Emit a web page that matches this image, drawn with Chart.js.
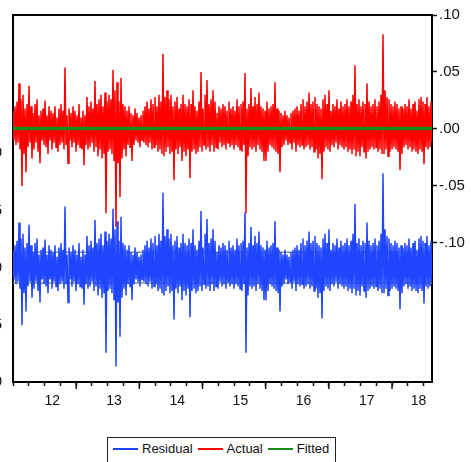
<!DOCTYPE html>
<html>
<head>
<meta charset="utf-8">
<script src="https://cdn.jsdelivr.net/npm/chart.js@4.4.0/dist/chart.umd.min.js"></script>
<style>
html, body { margin: 0; padding: 0; background: #fff; }
body { width: 471px; height: 462px; overflow: hidden; position: relative; font-family: "Liberation Sans", Arial, sans-serif; }
#wrap { position: absolute; left: -30px; top: 0; width: 501px; height: 420px; }
#legend { position: absolute; left: 107px; top: 437px; width: 229px; height: 34px; box-sizing: border-box;
  border: 1.5px solid #222; display: flex; align-items: flex-start; padding: 3px 0 0 5px; font-size: 13px; color: #111; }
.item { display: flex; align-items: center; margin-right: 5px; line-height: 16px; }
.swatch { width: 25px; height: 2px; margin-right: 4px; }
</style>
</head>
<body>
<div id="wrap"><canvas id="chart" width="501" height="420"></canvas></div>
<div id="legend">
  <div class="item"><span class="swatch" style="background:#1f45ff"></span>Residual</div>
  <div class="item"><span class="swatch" style="background:#ff0000"></span>Actual</div>
  <div class="item"><span class="swatch" style="background:#1a8a1a"></span>Fitted</div>
</div>
<script>
// 残差 / 实际值 / 拟合值 (daily returns, 2012 - mid 2018)
const X_START = 2012.0;
const X_END = 2018.633;

// actual values (right axis)
const actual = [
  0.016, -0.010, 0.020, -0.014, 0.024, -0.012, 0.040, -0.018, 0.026, -0.050,
  0.030, -0.022, 0.018, -0.038, 0.022, -0.016, 0.038, -0.012, 0.020, -0.026,
  0.014, -0.018, 0.022, -0.012, 0.026, -0.020, 0.012, -0.030, 0.016, -0.010,
  0.018, -0.014, 0.025, -0.016, 0.012, -0.022, 0.020, -0.010, 0.016, -0.018,
  0.014, -0.012, 0.020, -0.016, 0.010, -0.020, 0.018, -0.014, 0.022, -0.012,
  0.016, -0.018, 0.054, -0.014, 0.012, -0.030, 0.018, -0.010, 0.014, -0.016,
  0.020, -0.012, 0.016, -0.020, 0.012, -0.014, 0.022, -0.016, 0.010, -0.018,
  0.016, -0.032, 0.012, -0.014, 0.028, -0.018, 0.020, -0.016, 0.024, -0.012,
  0.018, -0.020, 0.042, -0.016, 0.022, -0.024, 0.026, -0.018, 0.030, -0.026,
  0.020, -0.022, 0.032, -0.074, 0.024, -0.020, 0.030, -0.018, 0.026, -0.022,
  0.052, -0.028, 0.034, -0.086, 0.041, -0.030, 0.024, -0.060, 0.045, -0.026,
  0.022, -0.018, 0.020, -0.024, 0.016, -0.014, 0.020, -0.016, 0.014, -0.028,
  0.012, -0.014, 0.018, -0.010, 0.014, -0.012, 0.010, -0.016, 0.012, -0.010,
  0.016, -0.012, 0.020, -0.014, 0.024, -0.016, 0.018, -0.012, 0.026, -0.018,
  0.022, -0.016, 0.028, -0.014, 0.020, -0.020, 0.030, -0.018, 0.024, -0.022,
  0.066, -0.024, 0.028, -0.020, 0.034, -0.016, 0.026, -0.022, 0.030, -0.020,
  0.020, -0.045, 0.024, -0.018, 0.028, -0.022, 0.018, -0.016, 0.022, -0.028,
  0.030, -0.020, 0.022, -0.024, 0.020, -0.018, 0.026, -0.043, 0.022, -0.020,
  0.034, -0.018, 0.020, -0.022, 0.016, -0.020, 0.024, -0.016, 0.050, -0.020,
  0.018, -0.014, 0.030, -0.018, 0.043, -0.016, 0.022, -0.020, 0.026, -0.014,
  0.034, -0.020, 0.024, -0.016, 0.014, -0.018, 0.020, -0.012, 0.018, -0.016,
  0.022, -0.014, 0.020, -0.018, 0.016, -0.012, 0.024, -0.016, 0.018, -0.014,
  0.020, -0.018, 0.016, -0.014, 0.026, -0.016, 0.020, -0.018, 0.022, -0.020,
  0.024, -0.014, 0.049, -0.074, 0.018, -0.024, 0.022, -0.016, 0.036, -0.018,
  0.020, -0.016, 0.028, -0.020, 0.022, -0.014, 0.032, -0.018, 0.020, -0.020,
  0.018, -0.028, 0.016, -0.028, 0.024, -0.020, 0.018, -0.014, 0.020, -0.016,
  0.022, -0.018, 0.041, -0.020, 0.018, -0.022, 0.016, -0.038, 0.014, -0.016,
  0.012, -0.014, 0.016, -0.010, 0.012, -0.014, 0.010, -0.012, 0.014, -0.018,
  0.016, -0.012, 0.018, -0.020, 0.020, -0.014, 0.016, -0.016, 0.022, -0.014,
  0.026, -0.018, 0.020, -0.016, 0.024, -0.014, 0.032, -0.018, 0.022, -0.016,
  0.024, -0.020, 0.028, -0.018, 0.022, -0.026, 0.020, -0.022, 0.018, -0.044,
  0.026, -0.020, 0.030, -0.016, 0.022, -0.018, 0.034, -0.020, 0.016, -0.014,
  0.022, -0.016, 0.020, -0.012, 0.026, -0.018, 0.018, -0.014, 0.024, -0.016,
  0.020, -0.018, 0.022, -0.016, 0.026, -0.020, 0.020, -0.018, 0.024, -0.022,
  0.030, -0.018, 0.056, -0.024, 0.022, -0.020, 0.026, -0.024, 0.020, -0.016,
  0.024, -0.020, 0.022, -0.026, 0.040, -0.020, 0.024, -0.018, 0.020, -0.016,
  0.022, -0.018, 0.026, -0.016, 0.020, -0.020, 0.024, -0.018, 0.030, -0.022,
  0.083, -0.022, 0.034, -0.018, 0.028, -0.024, 0.026, -0.020, 0.022, -0.018,
  0.020, -0.016, 0.024, -0.018, 0.022, -0.020, 0.018, -0.036, 0.020, -0.022,
  0.018, -0.016, 0.022, -0.014, 0.020, -0.018, 0.026, -0.016, 0.018, -0.020,
  0.022, -0.018, 0.024, -0.020, 0.016, -0.022, 0.026, -0.018, 0.028, -0.020,
  0.024, -0.031, 0.022, -0.016, 0.028, -0.018, 0.020, -0.016, 0.024, -0.012
];
// constant-mean model
const fittedLevel = 0.0004;
// +/- 1 S.E. band on the residual axis
const seBand = [0.0135, -0.0135];

const yTicks = [-0.10, -0.05, 0.00, 0.05, 0.10];
const xLabels = ['12', '13', '14', '15', '16', '17', '18'];
const xLabelPos = [2012.62, 2013.6, 2014.6, 2015.6, 2016.6, 2017.6, 2018.42];
const yearTicks = [2013, 2014, 2015, 2016, 2017, 2018];

const FONT = '"Liberation Sans", Arial, sans-serif';

const n = actual.length;
const dates = actual.map((_, i) => X_START + i * (X_END - X_START) / (n - 1));
const fitted = actual.map(() => fittedLevel);
const residual = actual.map((v, i) => v - fitted[i]);

const quarterTicks = [];
for (let q = X_START; q <= X_END + 1e-9; q += 0.25) quarterTicks.push(+q.toFixed(2));
const xTickValues = quarterTicks.concat(xLabelPos).sort((a, b) => a - b);

function fmt(v) {
    if (Math.abs(v) < 1e-9) return '.00';
    return (v < 0 ? '-' : '') + Math.abs(v).toFixed(2).replace(/^0/, '');
}

const longTicks = {
    id: 'longTicks',
    afterDraw(chart) {
        const s = chart.scales.x;
        const ctx = chart.ctx;
        ctx.save();
        ctx.strokeStyle = '#111';
        ctx.lineWidth = 1.5;
        yearTicks.forEach(v => {
            const px = s.getPixelForValue(v);
            ctx.beginPath();
            ctx.moveTo(px, s.top);
            ctx.lineTo(px, s.top + 7);
            ctx.stroke();
        });
        ctx.restore();
    }
};

const pts = arr => arr.map((v, i) => ({ x: dates[i], y: v }));

new Chart(document.getElementById('chart'), {
    type: 'line',
    data: {
        datasets: [
            {
                label: 'Fitted', data: pts(fitted), yAxisID: 'yAct', xAxisID: 'x',
                borderColor: '#1a8a1a', borderWidth: 3.5, pointRadius: 0, order: 1
            },
            {
                label: 'Actual', data: pts(actual), yAxisID: 'yAct', xAxisID: 'x',
                borderColor: '#ff0000', borderWidth: 1.5, pointRadius: 0, order: 2
            },
            {
                label: 'Residual', data: pts(residual), yAxisID: 'yRes', xAxisID: 'x',
                borderColor: '#1f45ff', borderWidth: 1.5, pointRadius: 0, order: 3
            },
            {
                label: 'se+', data: [{ x: X_START, y: seBand[0] }, { x: X_END, y: seBand[0] }], yAxisID: 'yRes', xAxisID: 'x',
                borderColor: '#7d9483', borderWidth: 1.5, pointRadius: 0, order: 5
            },
            {
                label: 'se-', data: [{ x: X_START, y: seBand[1] }, { x: X_END, y: seBand[1] }], yAxisID: 'yRes', xAxisID: 'x',
                borderColor: '#7d9483', borderWidth: 1.5, pointRadius: 0, order: 5
            }
        ]
    },
    options: {
        responsive: false,
        animation: false,
        devicePixelRatio: 1,
        layout: { padding: 0 },
        plugins: { legend: { display: false }, tooltip: { enabled: false } },
        scales: {
            x: {
                type: 'linear', position: 'bottom', min: X_START, max: X_END,
                afterBuildTicks: s => { s.ticks = xTickValues.map(v => ({ value: v })); },
                afterFit: s => { s.height = 38; },
                grid: {
                    drawOnChartArea: false, drawTicks: true, tickLength: 4, tickWidth: 1.5,
                    tickColor: c => (c.tick && xLabelPos.includes(c.tick.value)) ? 'rgba(0,0,0,0)' : '#111'
                },
                border: { display: true, color: '#000', width: 2 },
                ticks: {
                    autoSkip: false, maxRotation: 0, padding: 7, color: '#111',
                    font: { size: 14, family: FONT },
                    callback: v => { const k = xLabelPos.indexOf(v); return k >= 0 ? xLabels[k] : ''; }
                }
            },
            xTop: {
                type: 'linear', position: 'top', min: X_START, max: X_END,
                afterFit: s => { s.height = 15; },
                grid: { display: false },
                ticks: { display: false },
                border: { display: true, color: '#000', width: 2 }
            },
            yRes: {
                type: 'linear', position: 'left', min: -0.10, max: 0.221,
                afterBuildTicks: s => { s.ticks = yTicks.map(v => ({ value: v })); },
                afterFit: s => { s.width = 43; },
                grid: { display: false },
                border: { display: true, color: '#000', width: 2 },
                ticks: { padding: 3, color: '#111', font: { size: 15, family: FONT }, callback: v => fmt(v) }
            },
            yAct: {
                type: 'linear', position: 'right', min: -0.222, max: 0.10,
                afterBuildTicks: s => { s.ticks = yTicks.map(v => ({ value: v })); },
                afterFit: s => { s.width = 39; },
                grid: { drawOnChartArea: false, drawTicks: true, tickLength: 5, tickWidth: 1.5, tickColor: '#111' },
                border: { display: true, color: '#000', width: 2 },
                ticks: { padding: 2, color: '#111', font: { size: 15, family: FONT }, callback: v => fmt(v) }
            }
        }
    },
    plugins: [longTicks]
});
</script>
</body>
</html>
